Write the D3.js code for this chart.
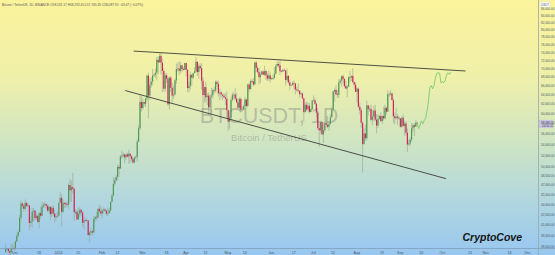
<!DOCTYPE html>
<html lang="en">
<head>
<meta charset="UTF-8">
<title>BTCUSDT 1D</title>
<script src="https://cdn.jsdelivr.net/npm/d3@7"></script>
<style>
  body { margin: 0; background: #fff; }
  svg text { font-family: "Liberation Sans", Arial, sans-serif; }
</style>
</head>
<body>
<div id="chart"></div>
<script>
// daily candles start 2023-11-24, prices in thousands USDT, open = previous close
const startDate = "2023-11-24";
const firstOpen = 37.29;

const closes = [
  37.72,37.79,37.45,37.24,37.83,37.85,37.71,
  38.69,39.47,39.98,41.98,44.08,43.77,43.29,44.17,43.71,43.79,41.24,41.45,42.89,43.02,41.94,42.26,41.37,42.66,42.26,43.65,43.86,43.99,43.74,43.02,43.58,42.52,43.44,42.58,42.07,42.14,42.28,
  44.18,44.95,42.85,44.18,44.16,43.97,43.93,46.97,46.12,46.63,46.34,42.78,42.84,41.73,42.51,43.14,42.75,41.26,41.62,41.66,41.58,39.57,39.87,40.08,39.93,41.82,42.12,42.03,43.30,42.94,42.58,
  43.08,43.19,42.99,42.58,42.66,43.08,44.34,45.29,47.13,47.75,48.29,49.96,49.70,51.80,51.91,52.14,51.64,52.14,51.78,52.28,51.84,51.30,50.73,51.57,51.73,54.48,57.04,62.43,61.13,
  62.39,62.03,63.17,68.33,63.80,66.11,66.93,68.30,68.50,69.02,72.12,71.48,73.08,71.40,69.40,65.32,68.39,67.55,61.93,67.84,65.50,63.79,64.04,67.21,69.88,69.98,69.45,70.74,69.89,69.65,71.33,
  69.70,65.46,65.96,68.49,67.84,68.90,69.36,71.62,69.14,70.59,70.06,67.12,63.92,65.66,63.42,63.79,61.28,63.51,63.84,64.99,64.93,66.84,66.41,64.28,64.49,64.01,63.75,63.42,63.11,60.67,
  58.33,59.12,62.89,63.89,64.03,63.16,62.33,61.19,63.07,60.79,60.82,61.45,62.94,61.58,66.27,65.23,67.05,66.94,66.28,71.45,70.14,69.12,67.93,68.53,69.29,68.51,69.39,68.36,67.63,68.35,67.49,
  67.71,67.75,68.80,70.57,71.08,70.76,69.34,69.31,69.65,69.50,67.32,68.24,66.75,66.01,66.19,66.64,66.49,65.15,64.96,64.83,64.10,64.26,63.18,60.28,61.81,60.84,61.61,60.32,60.89,62.68,
  62.77,62.03,60.20,57.06,56.64,58.23,55.86,56.70,58.05,57.72,57.34,57.90,59.23,60.79,64.72,65.04,64.09,63.97,66.71,67.16,68.17,67.53,65.94,65.37,65.78,67.91,67.90,68.25,66.78,66.19,64.62,
  65.35,61.41,60.68,58.12,54.02,56.03,55.12,61.70,60.88,60.95,58.71,59.35,60.60,58.74,57.56,58.87,59.49,58.43,59.49,59.01,61.16,60.38,64.09,64.18,64.25,62.82,59.42,59.03,59.37,59.12,58.97,
  57.33,59.13,57.49,57.97,56.16,53.96,54.16,54.87,57.05,57.64,57.34,58.13,58.09
];
const highs = [
  38.42,37.89,37.83,37.56,38.38,38.44,38.15,
  38.95,39.70,40.20,42.40,44.49,44.30,44.05,44.70,44.37,44.04,43.80,42.10,43.43,43.42,43.09,42.70,42.43,42.76,43.50,44.28,44.24,44.36,44.04,43.95,43.80,43.60,43.68,43.80,43.12,42.60,42.90,
  44.18,45.90,45.50,44.78,44.33,44.22,44.50,47.25,47.89,47.70,48.97,46.50,43.26,43.08,43.40,43.57,43.20,42.93,42.20,41.87,41.88,41.67,40.13,40.55,40.28,42.23,42.20,42.84,43.34,43.88,43.75,
  43.29,43.50,43.38,43.12,43.50,43.42,44.38,45.60,48.20,48.17,48.59,50.33,50.37,52.04,52.82,52.57,52.20,52.36,52.48,52.98,52.37,52.00,51.55,51.70,51.95,54.90,57.59,63.91,63.68,
  63.18,62.43,63.23,68.50,69.00,67.60,67.98,69.90,68.80,70.00,72.80,72.97,73.65,73.78,72.42,70.00,68.88,68.92,68.10,68.03,68.24,66.65,65.97,67.62,71.15,71.56,71.73,71.56,70.91,70.33,71.37,
  71.33,69.70,66.90,69.29,68.72,69.00,70.28,72.80,71.76,71.17,71.26,71.22,67.93,65.80,66.87,64.36,64.47,64.12,65.45,65.39,65.70,67.23,67.21,67.07,65.30,64.79,63.92,64.36,64.20,64.73,
  60.78,59.60,63.32,64.50,64.45,65.50,64.40,62.99,63.42,63.46,61.49,61.82,63.45,63.10,66.44,66.70,67.45,67.40,67.70,71.52,71.95,70.66,70.10,69.22,69.56,69.50,70.61,69.55,68.91,69.50,69.01,
  67.86,68.40,70.29,71.06,71.76,71.63,71.99,69.60,69.86,70.15,69.56,69.99,68.45,67.32,66.40,66.93,67.18,66.56,65.73,66.48,65.02,64.51,64.52,63.37,62.37,62.47,62.29,62.19,61.20,62.89,
  63.83,63.30,62.30,60.50,58.00,58.49,58.45,58.25,58.30,59.47,59.44,58.55,59.85,61.42,64.90,65.39,66.13,65.10,67.47,67.61,68.37,68.48,67.79,67.11,66.15,68.22,69.40,68.32,70.08,66.98,66.82,
  65.59,65.00,62.15,61.11,58.30,57.04,57.72,62.75,61.75,61.47,61.86,60.70,61.58,61.80,59.85,59.82,59.65,60.27,59.61,61.40,61.82,61.42,64.95,64.51,65.00,64.48,63.21,60.23,61.18,59.85,59.43,
  59.06,59.40,59.81,58.52,58.33,56.99,54.85,55.30,58.05,58.04,57.99,58.60,58.29
];
const lows = [
  37.25,37.60,37.15,36.75,36.90,37.60,37.50,
  37.60,38.65,39.28,39.97,41.42,43.33,42.82,43.08,43.58,43.55,40.22,40.68,40.60,41.42,41.66,41.69,41.25,40.50,41.82,42.20,43.40,43.45,43.31,42.78,42.75,41.60,42.12,42.30,41.30,41.52,41.97,
  42.19,44.18,40.75,42.62,43.40,43.41,43.60,43.20,44.30,44.35,45.60,41.50,42.44,41.72,41.72,42.05,42.20,40.68,40.28,41.45,41.50,39.45,38.55,39.50,39.53,39.82,41.39,41.62,41.81,42.68,42.28,
  41.88,42.58,42.88,42.26,42.26,42.58,42.78,44.33,45.24,46.80,47.52,47.70,48.30,49.70,51.32,51.57,50.62,51.19,51.68,50.52,50.62,50.95,50.52,50.60,51.28,50.90,54.45,56.74,60.35,
  60.78,61.56,61.32,62.80,59.01,62.85,65.52,66.10,68.02,67.80,67.19,68.62,71.33,68.55,64.53,64.78,64.55,66.60,61.55,60.78,64.53,62.26,63.00,63.79,66.38,69.28,68.38,68.90,69.11,69.53,69.60,
  68.08,64.55,64.49,65.09,66.01,67.50,68.81,69.05,68.21,67.52,69.57,65.09,60.66,62.26,62.33,61.73,59.77,60.83,59.60,63.10,64.24,64.50,65.75,63.60,62.80,63.30,62.80,63.23,61.77,59.19,
  56.55,56.94,58.81,62.59,62.97,62.70,62.16,60.88,60.65,60.19,60.49,60.63,60.75,61.15,61.33,64.60,65.13,66.60,65.85,66.06,69.16,68.80,66.30,66.63,68.52,68.45,68.26,67.25,67.10,67.12,66.67,
  67.39,67.30,67.61,68.55,70.38,70.15,68.50,69.21,69.13,69.23,66.05,66.90,66.30,65.06,65.87,66.00,65.13,64.06,64.69,64.52,63.38,63.94,63.15,58.40,60.22,60.45,60.56,60.00,60.28,60.63,
  62.50,61.80,59.40,56.77,53.49,56.02,55.72,54.26,56.30,57.15,57.05,56.55,57.80,59.22,60.65,62.46,63.88,63.25,63.30,66.44,65.74,66.55,65.44,65.14,63.45,65.75,66.73,67.06,66.56,65.30,64.53,
  62.25,61.15,59.85,57.12,49.00,53.97,54.56,54.73,59.55,60.26,58.41,57.65,58.46,58.42,56.08,57.10,58.79,58.42,57.86,58.56,58.79,59.80,60.36,63.57,63.75,62.80,58.12,57.86,58.75,57.70,58.75,
  57.20,57.12,57.41,55.61,55.70,52.55,53.75,53.66,54.60,56.40,55.55,57.35,57.75
];

// projected path (light green), one point per day from the last candle
const projPrices = [58.1,57.0,57.6,58.5,57.9,58.6,59.0,60.5,62.4,65.6,66.0,65.3,66.1,67.7,68.8,69.0,68.9,66.6,66.9,66.7,67.2,68.5,69.0,68.6,69.1];

// drawn trendlines: [date, price in thousands]
const upperLine = [["2024-02-24", 74.3], ["2024-10-18", 69.4]];
const lowerLine = [["2024-02-18", 64.9], ["2024-10-04", 48.0]];

const timeTickDates = ["2023-12-01","2023-12-18","2024-01-01","2024-01-15","2024-02-01","2024-02-12","2024-03-01","2024-03-18","2024-04-01","2024-04-15","2024-05-01","2024-05-13","2024-06-01","2024-06-17","2024-07-01","2024-07-15","2024-08-01","2024-08-19","2024-09-01","2024-09-16","2024-10-01","2024-10-21","2024-11-01","2024-11-18","2024-12-01"];
const timeTickLabels = ["Dec","18","2024","15","Feb","12","Mar","18","Apr","15","May","13","Jun","17","Jul","15","Aug","19","Sep","16","Oct","21","Nov","18","Dec"];

const priceTicks = [86000,84000,82000,80000,78000,76000,74000,72000,70000,68000,66000,64000,62000,60000,58000,56000,54000,52000,50000,48500,47000,45500,44000,42500,41000,39500,38000];

const headerText = "Bitcoin / TetherUS, 1D, BINANCE  O58,131.17  H58,292.45  L57,745.35  C58,087.70  \u221243.47 (\u22120.07%)";

const W = 555, H = 255, plotR = 538, plotB = 248;
const day = 864e5;
const parse = d3.utcParse("%Y-%m-%d");

const svg = d3.select("#chart").append("svg")
  .attr("width", W).attr("height", H);

const grad = svg.append("defs").append("linearGradient")
  .attr("id", "bg").attr("x1", 0).attr("y1", 0).attr("x2", 0).attr("y2", 1);
[[0, "#fbf39c"], [0.3, "#eff0a9"], [0.55, "#d0e5c2"], [0.78, "#b2d7de"], [1, "#98c7f0"]]
  .forEach(s => grad.append("stop").attr("offset", s[0]).attr("stop-color", s[1]));
svg.append("rect").attr("width", W).attr("height", H).attr("fill", "url(#bg)");

const x = d3.scaleUtc()
  .domain([new Date(Date.UTC(2023, 10, 20, 12)), new Date(Date.UTC(2024, 11, 9, 12))])
  .range([0, 539]);
const y = d3.scaleLog().domain([37850, 88500]).range([plotB, 0]);

// build candles
const t0 = parse(startDate).getTime();
const candles = closes.map((c, i) => ({
  date: new Date(t0 + i * day + day / 2),
  open: (i === 0 ? firstOpen : closes[i - 1]) * 1000,
  close: c * 1000,
  high: highs[i] * 1000,
  low: lows[i] * 1000
}));

// watermark
svg.append("text").attr("x", 269).attr("y", 123).attr("text-anchor", "middle")
  .attr("font-size", 21.5).attr("fill", "#7d8079").attr("fill-opacity", 0.42)
  .text("BTCUSDT, 1D");
svg.append("text").attr("x", 269).attr("y", 141).attr("text-anchor", "middle")
  .attr("font-size", 9.5).attr("fill", "#7d8079").attr("fill-opacity", 0.42)
  .text("Bitcoin / TetherUS");

const plot = svg.append("g");

plot.selectAll(".wick").data(candles).enter().append("line")
  .attr("x1", d => x(d.date)).attr("x2", d => x(d.date))
  .attr("y1", d => y(d.high)).attr("y2", d => y(d.low))
  .attr("stroke", "#97a196").attr("stroke-width", 0.6);

plot.selectAll(".body").data(candles).enter().append("rect")
  .attr("x", d => x(d.date) - 0.6)
  .attr("width", 1.2)
  .attr("y", d => y(Math.max(d.open, d.close)))
  .attr("height", d => Math.max(0.8, Math.abs(y(d.open) - y(d.close))))
  .attr("fill", d => d.close >= d.open ? "#4f9b55" : "#d7235c");

// projection
const last = candles[candles.length - 1];
const proj = projPrices.map((p, i) => ({ date: new Date(last.date.getTime() + i * day), v: p * 1000 }));
plot.append("path").datum(proj)
  .attr("d", d3.line().x(d => x(d.date)).y(d => y(d.v)))
  .attr("fill", "none").attr("stroke", "#79c96b").attr("stroke-width", 0.9);

// trendlines
[upperLine, lowerLine].forEach(l => {
  plot.append("line")
    .attr("x1", x(parse(l[0][0]))).attr("y1", y(l[0][1] * 1000))
    .attr("x2", x(parse(l[1][0]))).attr("y2", y(l[1][1] * 1000))
    .attr("stroke", "#3d3d3a").attr("stroke-width", 0.9);
});

// header
svg.append("text").attr("x", 2).attr("y", 6).attr("font-size", 3.2).attr("fill", "#555")
  .text(headerText);

// time axis
svg.append("line").attr("x1", 0).attr("x2", W).attr("y1", plotB + 0.5).attr("y2", plotB + 0.5)
  .attr("stroke", "#7e9bb3").attr("stroke-width", 0.7);
const xAxis = svg.append("g").attr("transform", `translate(0,${plotB})`)
  .call(d3.axisBottom(x)
    .tickValues(timeTickDates.map(parse))
    .tickFormat((d, i) => timeTickLabels[i])
    .tickSize(0).tickPadding(3));
xAxis.select(".domain").remove();
xAxis.selectAll("text").attr("font-size", 3.6).attr("fill", "#4a5560")
  .attr("font-family", "Liberation Sans, Arial, sans-serif");

// price axis, labels next to the last price box are hidden like TradingView does
const last_y = y(last.close);
svg.append("line").attr("x1", plotR + 0.5).attr("x2", plotR + 0.5).attr("y1", 0).attr("y2", H)
  .attr("stroke", "#8ea0a8").attr("stroke-width", 0.7);
const yAxis = svg.append("g").attr("transform", `translate(${plotR},0)`)
  .call(d3.axisRight(y).tickValues(priceTicks.filter(v => Math.abs(y(v) - last_y) > 6))
    .tickFormat(d3.format(",.2f")).tickSize(0).tickPadding(3));
yAxis.select(".domain").remove();
yAxis.selectAll("text").attr("font-size", 3).attr("fill", "#4a5560")
  .attr("font-family", "Liberation Sans, Arial, sans-serif");

// USDT label
svg.append("rect").attr("x", 540).attr("y", 2).attr("width", 10).attr("height", 5)
  .attr("fill", "#fff").attr("stroke", "#ccc").attr("stroke-width", 0.3);
svg.append("text").attr("x", 541).attr("y", 5.8).attr("font-size", 3).attr("fill", "#555").text("USDT");

// last price label
svg.append("rect").attr("x", 539).attr("y", last_y - 3).attr("width", 14).attr("height", 8)
  .attr("fill", "#c7c3e2");
svg.append("text").attr("x", 541).attr("y", last_y + 0.8).attr("font-size", 3).attr("fill", "#333")
  .text(d3.format(",.2f")(last.close));
svg.append("text").attr("x", 542).attr("y", last_y + 4).attr("font-size", 3).attr("fill", "#333")
  .text("10:51:12");

// brand
svg.append("text").attr("x", 522).attr("y", 240.5).attr("text-anchor", "end")
  .attr("font-size", 10.5).attr("font-style", "italic").attr("font-weight", "bold")
  .attr("fill", "#151515").text("CryptoCove");
</script>
</body>
</html>
